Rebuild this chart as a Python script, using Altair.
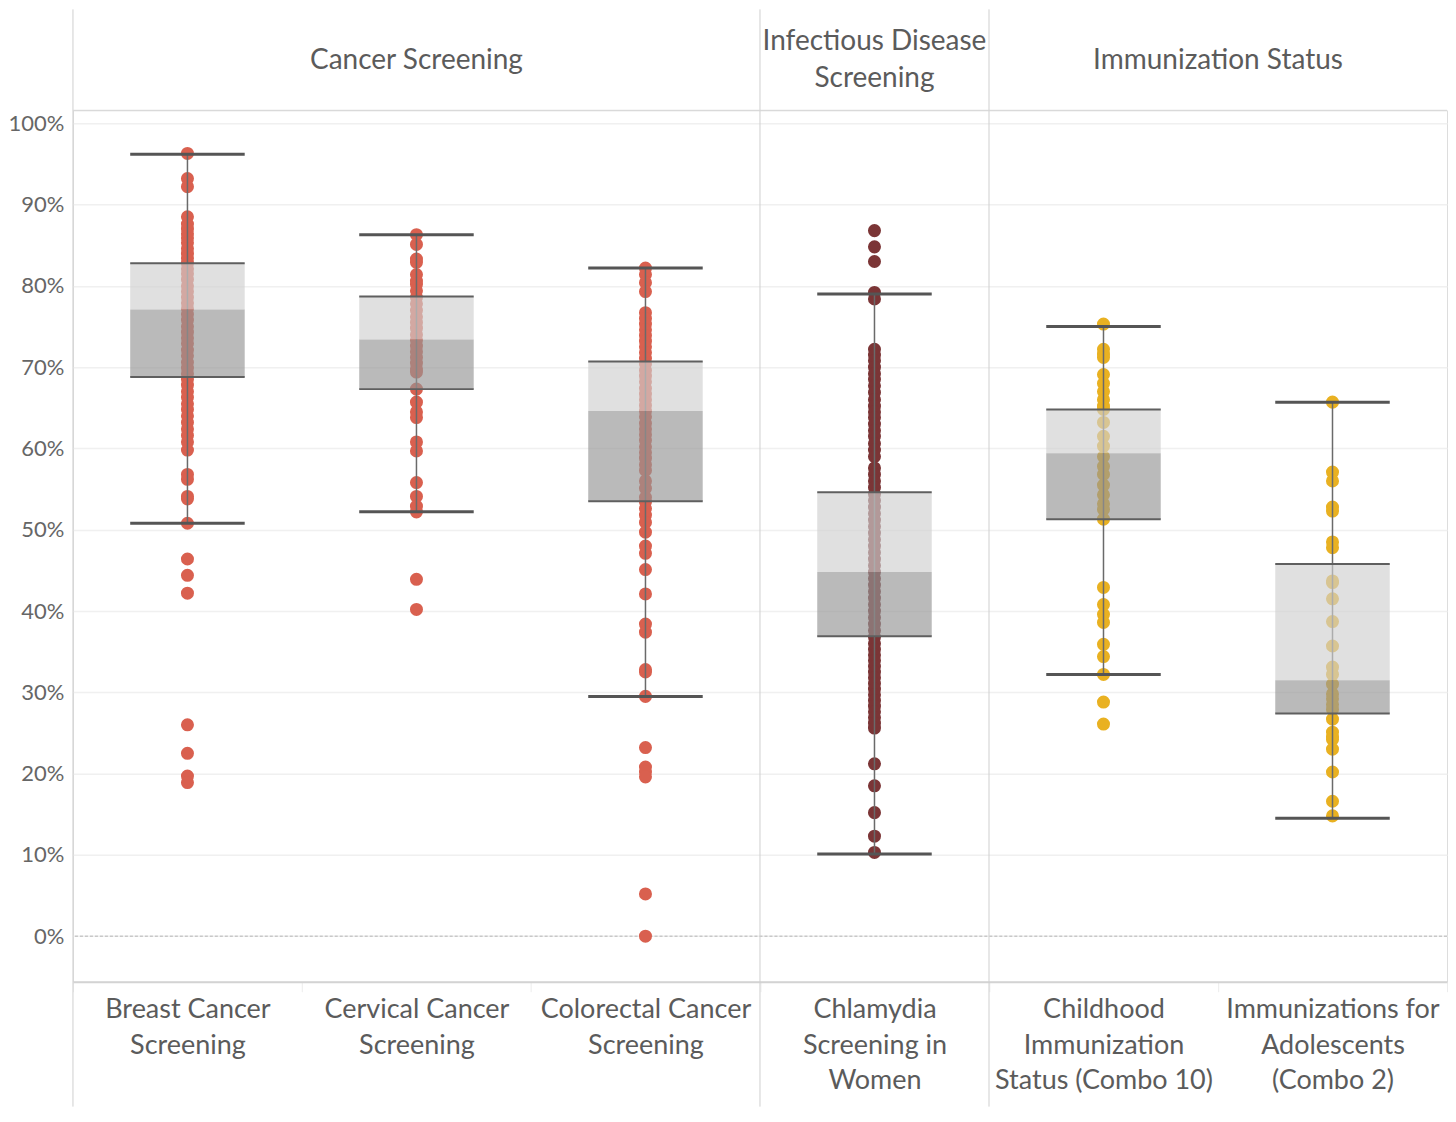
import altair as alt
import pandas as pd

# ---------------- data ----------------
measures = [
    "Breast Cancer Screening",
    "Cervical Cancer Screening",
    "Colorectal Cancer Screening",
    "Chlamydia Screening in Women",
    "Childhood Immunization Status (Combo 10)",
    "Immunizations for Adolescents (Combo 2)",
]
measure_labels = [
    "Breast Cancer|Screening",
    "Cervical Cancer|Screening",
    "Colorectal Cancer|Screening",
    "Chlamydia|Screening in|Women",
    "Childhood|Immunization|Status (Combo 10)",
    "Immunizations for|Adolescents|(Combo 2)",
]
measure_group = [
    "Cancer Screening", "Cancer Screening", "Cancer Screening",
    "Infectious Disease Screening",
    "Immunization Status", "Immunization Status",
]
group_names = ["Cancer Screening", "Infectious Disease Screening", "Immunization Status"]
group_headers = ["Cancer Screening", "Infectious Disease|Screening", "Immunization Status"]
group_colors = ["#d9604f", "#7b3536", "#e9b121"]

breast = [96.3, 93.2, 92.2, 88.5, 87.6, 87.0, 86.4, 85.9, 85.3, 84.6, 84.0, 83.4, 82.8,
          82.1, 81.5, 80.8, 80.0, 79.3, 78.6, 77.9, 77.2, 76.5, 75.8, 75.0, 74.3, 73.6,
          72.9, 72.1, 71.4, 70.6, 69.9, 69.2, 68.5, 67.8, 67.0, 66.3, 65.5, 64.8, 64.0,
          63.2, 62.4, 61.6, 60.8, 59.8, 56.8, 56.2, 54.1, 53.8, 50.8, 46.4, 44.4, 42.2,
          26.0, 22.5, 19.7, 18.9]
cervical = [86.3, 85.1, 83.3, 82.9, 81.4, 80.6, 80.2, 79.4, 78.6, 77.8, 77.0, 76.2, 75.5,
            74.8, 74.0, 73.3, 72.6, 71.9, 71.2, 70.5, 69.8, 69.4, 67.3, 65.7, 64.5, 63.8,
            60.8, 59.7, 55.8, 54.1, 52.9, 52.2, 43.9, 40.2]
colorectal = [82.2, 81.4, 80.4, 79.3, 76.7, 76.0, 75.3, 74.6, 73.9, 73.2, 72.5, 71.8, 71.1,
              70.4, 69.6, 68.9, 68.2, 67.4, 66.7, 66.0, 65.3, 64.6, 63.9, 63.1, 62.4, 61.7,
              61.0, 60.2, 59.5, 58.8, 58.0, 57.3, 56.0, 55.1, 54.0, 53.4, 52.6, 51.8, 50.9,
              49.7, 48.0, 47.1, 45.1, 42.1, 38.4, 37.4, 32.8, 32.5, 29.5, 23.2, 20.8, 20.2,
              19.6, 5.2, 0.0]
chlamydia = [86.8, 84.8, 83.0, 79.2, 78.4, 72.2, 71.5, 70.8, 70.0, 69.2, 68.5, 67.7, 66.9,
             66.0, 65.2, 64.5, 63.8, 63.0, 62.2, 61.5, 60.6, 59.8, 59.0, 57.6, 56.8, 56.0,
             55.2, 54.4, 53.6, 52.8, 52.0, 51.2, 50.4, 49.6, 48.8, 48.0, 47.2, 46.4, 45.6,
             44.8, 44.0, 43.2, 42.4, 41.6, 40.8, 40.0, 39.2, 38.4, 37.6, 36.8, 36.0, 35.3,
             34.6, 33.9, 33.2, 32.5, 31.8, 31.1, 30.4, 29.7, 29.0, 28.3, 27.6, 26.9, 26.2,
             25.6, 21.2, 18.5, 15.2, 12.3, 10.3]
childhood = [75.3, 72.2, 71.6, 71.2, 69.1, 68.0, 67.0, 66.0, 65.2, 64.8, 63.2, 61.5, 60.3,
             59.0, 57.8, 56.8, 55.5, 54.3, 53.2, 52.5, 51.3, 42.9, 40.8, 39.6, 38.6, 35.9,
             34.4, 32.2, 28.8, 26.1]
adolescents = [65.7, 57.1, 56.0, 52.8, 52.3, 48.5, 47.8, 43.7, 43.5, 41.5, 38.7, 35.7, 33.1,
               32.2, 31.0, 29.8, 29.2, 28.5, 27.9, 26.7, 25.1, 24.5, 24.2, 23.0, 20.2, 16.6,
               14.8]
series = [breast, cervical, colorectal, chlamydia, childhood, adolescents]

# box-plot statistics (percent)
whisker_low = [50.8, 52.2, 29.5, 10.1, 32.2, 14.5]
q1 = [68.8, 67.3, 53.5, 36.9, 51.3, 27.4]
median = [77.1, 73.4, 64.6, 44.8, 59.4, 31.5]
q3 = [82.8, 78.7, 70.7, 54.6, 64.8, 45.8]
whisker_high = [96.2, 86.3, 82.2, 79.0, 75.0, 65.7]

# ---------------- tables ----------------
points = pd.DataFrame(
    [{"measure": m, "group": g, "value": v}
     for m, g, vals in zip(measures, measure_group, series) for v in vals]
)
boxes = pd.DataFrame({
    "measure": measures, "lo": whisker_low, "q1": q1, "med": median,
    "q3": q3, "hi": whisker_high,
})
headers = pd.DataFrame({
    "group": group_names, "header": group_headers,
    "anchor": [measures[1], measures[3], measures[4]],
})
group_starts = pd.DataFrame({"measure": [measures[0], measures[3], measures[4]]})
zero = pd.DataFrame({"z": [0]})

# ---------------- layout ----------------
W, H = 1375, 872
band = W / len(measures)
box_w = band * 0.5
TOP, BOTTOM = 101, 125
FONT = "Lato"

x_scale = alt.Scale(domain=measures, paddingInner=0, paddingOuter=0)
y_scale = alt.Scale(domain=[-5.6, 101.6], nice=False, zero=False)

label_expr = (
    "indexof(" + str(measures) + ", datum.value) < 0 ? '' : "
    "split(" + str(measure_labels) + "[indexof(" + str(measures) + ", datum.value)], '|')"
)

x_enc = alt.X(
    "measure:N", scale=x_scale, sort=measures, title=None,
    axis=alt.Axis(
        labelExpr=label_expr, labelAngle=0, labelFontSize=27, labelColor="#5b5b5b",
        labelLineHeight=35.5, labelPadding=5, labelBaseline="top", labelFont=FONT,
        domainColor="#d3d3d3", domainWidth=2, ticks=True, tickBand="extent",
        tickColor="#ececec", tickSize=10, tickWidth=1, grid=False, labelLimit=300,
    ),
)
y_enc = alt.Y(
    "value:Q", scale=y_scale, title=None,
    axis=alt.Axis(
        values=list(range(0, 101, 10)), labelExpr="datum.value + '%'",
        labelFontSize=22, labelColor="#666666", labelFont=FONT, labelPadding=9,
        domain=False, ticks=False, grid=True, gridColor="#f0f0f0", gridWidth=1.5,
    ),
)

color = alt.Color("group:N", scale=alt.Scale(domain=group_names, range=group_colors),
                  legend=None)

base_pts = alt.Chart(points)
base_box = alt.Chart(boxes)

dots = base_pts.mark_circle(size=170, opacity=1).encode(x=x_enc, y=y_enc, color=color)

zero_line = alt.Chart(zero).mark_rule(color="#b5b5b5", strokeDash=[3, 2], strokeWidth=1).encode(
    y=alt.Y("z:Q", scale=y_scale)
)

whisker = base_box.mark_rule(color="#6a6a6a", strokeWidth=1.5).encode(
    x=alt.X("measure:N", scale=x_scale, sort=measures),
    y=alt.Y("lo:Q", scale=y_scale), y2="hi:Q",
)

box_upper = base_box.mark_bar(width=alt.RelativeBandSize(0.5), color="#cfcfcf",
                              opacity=0.65).encode(
    x=alt.X("measure:N", scale=x_scale, sort=measures),
    y=alt.Y("med:Q", scale=y_scale), y2="q3:Q",
)
box_lower = base_box.mark_bar(width=alt.RelativeBandSize(0.5), color="#959595",
                              opacity=0.65).encode(
    x=alt.X("measure:N", scale=x_scale, sort=measures),
    y=alt.Y("q1:Q", scale=y_scale), y2="med:Q",
)

edges = base_box.transform_fold(["q1", "q3"], as_=["k", "v"]).mark_tick(
    size=box_w, thickness=2, color="#5f5f5f", opacity=1
).encode(
    x=alt.X("measure:N", scale=x_scale, sort=measures),
    y=alt.Y("v:Q", scale=y_scale),
)
caps = base_box.transform_fold(["lo", "hi"], as_=["k", "v"]).mark_tick(
    size=box_w, thickness=3, color="#555555", opacity=1
).encode(
    x=alt.X("measure:N", scale=x_scale, sort=measures),
    y=alt.Y("v:Q", scale=y_scale),
)

separators = alt.Chart(group_starts).mark_rule(color="#cfcfcf", strokeWidth=1).encode(
    x=alt.X("measure:N", scale=x_scale, sort=measures, bandPosition=0),
    y=alt.value(-TOP), y2=alt.value(H + BOTTOM),
)
header_line = alt.Chart(zero).mark_rule(color="#d6d6d6", strokeWidth=1).encode(
    x=alt.value(0), x2=alt.value(W), y=alt.value(0)
)

hdr_text = dict(fontSize=28, color="#5b5b5b", font=FONT, lineBreak="|",
                lineHeight=37, baseline="middle", align="center")


def header_layer(group, y_px, band_pos):
    return alt.Chart(headers).transform_filter(
        alt.datum.group == group
    ).mark_text(**hdr_text).encode(
        x=alt.X("anchor:N", scale=x_scale, sort=measures, bandPosition=band_pos),
        y=alt.value(y_px), text="header:N",
    )


hdr_cancer = header_layer(group_names[0], -49, 0.5)
hdr_infect = header_layer(group_names[1], -68, 0.5)
hdr_immun = header_layer(group_names[2], -49, 1)

chart = alt.layer(
    zero_line, dots, whisker, box_upper, box_lower, edges, caps,
    separators, header_line, hdr_cancer, hdr_infect, hdr_immun,
).properties(
    width=W, height=H,
    padding={"left": 0, "top": 0, "right": 0, "bottom": 0},
).configure_view(stroke=None).configure(font=FONT)

chart.save("out.html", embed_options={"renderer": "svg", "actions": False})
